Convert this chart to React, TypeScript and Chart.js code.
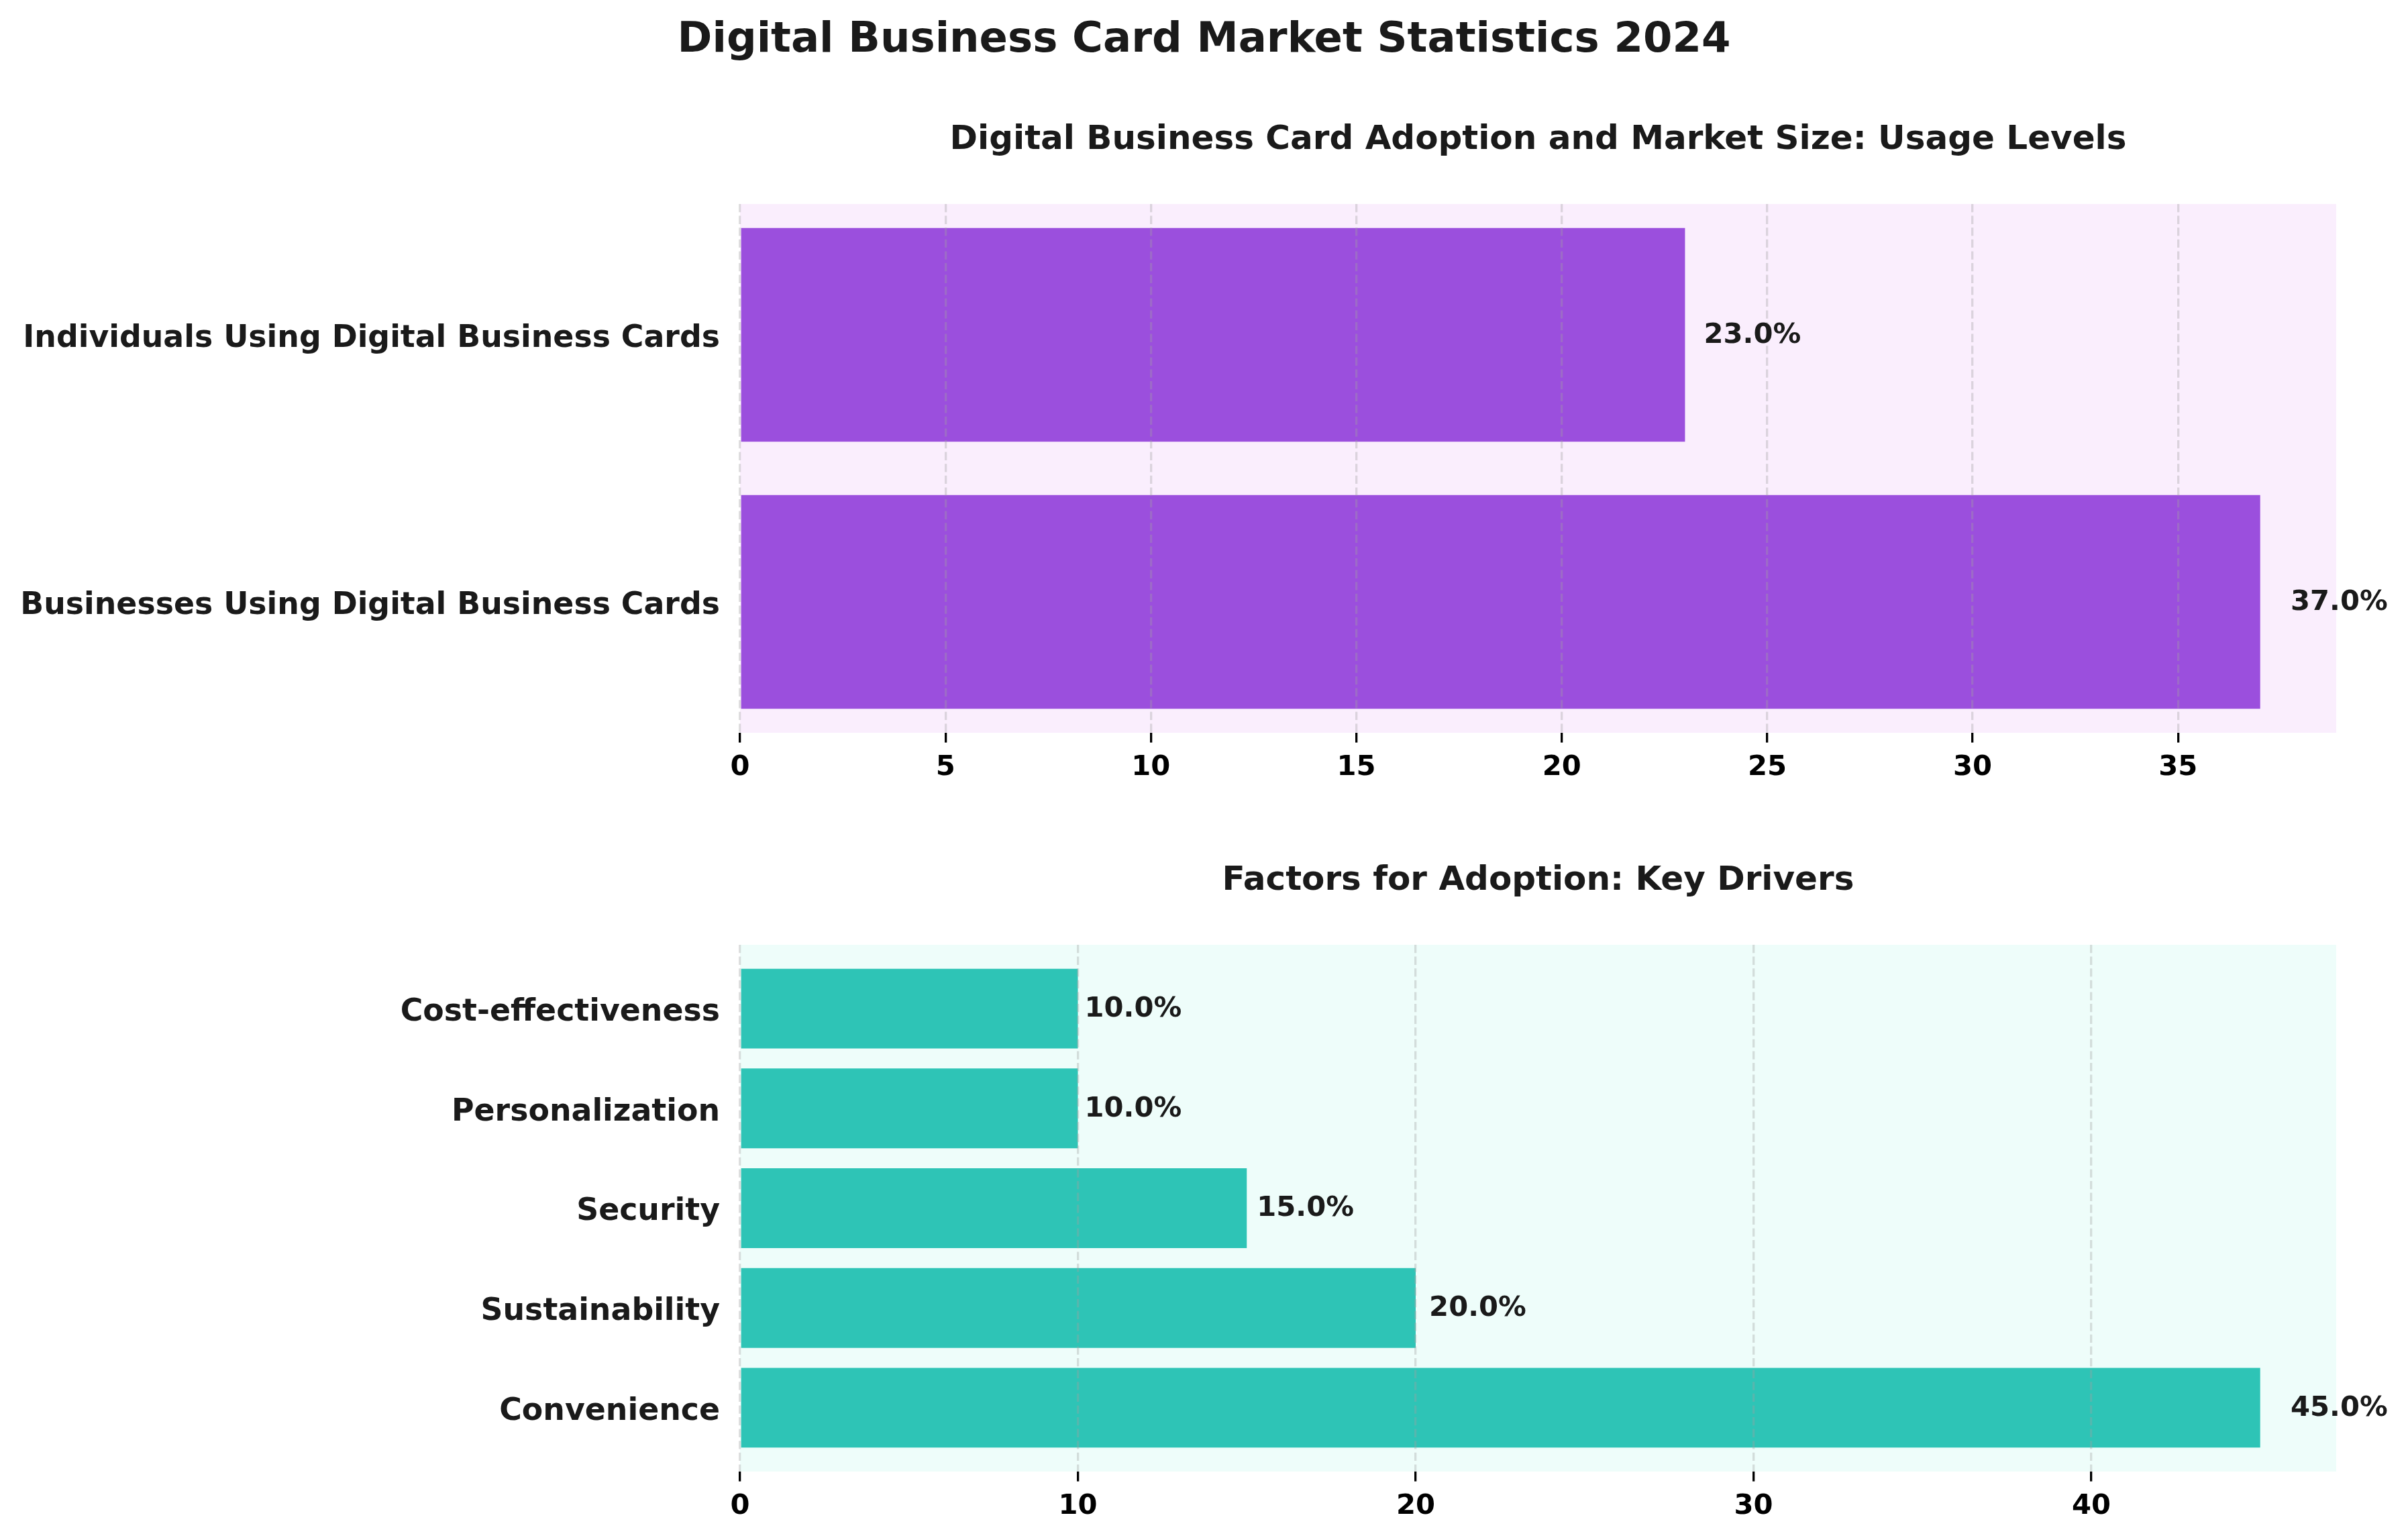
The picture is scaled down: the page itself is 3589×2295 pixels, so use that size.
import React, { useEffect, useRef } from "react";
import { Chart, registerables } from "chart.js";

Chart.register(...registerables);

// ---- data ----
const figureTitle = "Digital Business Card Market Statistics 2024";

const usageTitle = "Digital Business Card Adoption and Market Size: Usage Levels";
const usageCategories = [
  "Businesses Using Digital Business Cards",
  "Individuals Using Digital Business Cards",
];
const usageValues = [37.0, 23.0];
const usageTickStep = 5;

const factorsTitle = "Factors for Adoption: Key Drivers";
const factorCategories = [
  "Convenience",
  "Sustainability",
  "Security",
  "Personalization",
  "Cost-effectiveness",
];
const factorValues = [45.0, 20.0, 15.0, 10.0, 10.0];
const factorTickStep = 10;

// ---- style ----
const FONT = "'DejaVu Sans', 'Liberation Sans', sans-serif";
const W = 3589;
const TOP_H = 1200;
const BOTTOM_H = 2295 - TOP_H;
const Y_AXIS_W = 1103;
const RIGHT_PAD = W - 3482;
const X_AXIS_H = 80;

const annotPlugin = {
  id: "annot",
  beforeDraw(chart: any, _args: any, opts: any) {
    const { ctx, chartArea } = chart;
    ctx.save();
    ctx.fillStyle = opts.bg;
    ctx.fillRect(
      chartArea.left,
      chartArea.top,
      chartArea.right - chartArea.left,
      chartArea.bottom - chartArea.top
    );
    ctx.restore();
  },
  afterDraw(chart: any, _args: any, opts: any) {
    const { ctx, chartArea } = chart;
    const xs = chart.scales.x;
    const ys = chart.scales.y;
    ctx.save();
    ctx.fillStyle = "#1a1a1a";
    if (opts.figureTitle) {
      ctx.font = `bold 62.5px ${FONT}`;
      ctx.textAlign = "center";
      ctx.textBaseline = "alphabetic";
      ctx.fillText(opts.figureTitle, chart.width / 2, 77);
    }
    ctx.font = `bold 50px ${FONT}`;
    ctx.textAlign = "center";
    ctx.textBaseline = "alphabetic";
    ctx.fillText(opts.title, (chartArea.left + chartArea.right) / 2, chartArea.top - 82);
    ctx.font = `bold 41.7px ${FONT}`;
    ctx.textAlign = "left";
    ctx.textBaseline = "middle";
    const vals: number[] = opts.values;
    vals.forEach((v, i) => {
      const x = xs.getPixelForValue(v * 1.02);
      const y = ys.getPixelForValue(i) + 1;
      ctx.fillText(`${v.toFixed(1)}%`, x, y);
    });
    ctx.restore();
  },
};

function buildConfig(p: {
  categories: string[];
  values: number[];
  color: string;
  bg: string;
  step: number;
  title: string;
  figureTitle?: string;
  padTop: number;
  padBottom: number;
}): any {
  const n = p.values.length;
  const span = n - 1 + 0.8;
  const yMin = -0.4 - 0.05 * span;
  const yMax = n - 1 + 0.4 + 0.05 * span;
  const xMax = Math.max(...p.values) * 1.05;
  return {
    type: "bar",
    data: {
      datasets: [
        {
          data: p.values.map((v, i) => ({ x: v, y: i })),
          backgroundColor: p.color,
          borderWidth: 0,
          categoryPercentage: 1,
          barPercentage: 0.8,
        },
      ],
    },
    options: {
      indexAxis: "y",
      responsive: false,
      animation: false,
      devicePixelRatio: 1,
      layout: {
        padding: { left: 0, right: RIGHT_PAD, top: p.padTop, bottom: p.padBottom },
      },
      plugins: {
        legend: { display: false },
        tooltip: { enabled: false },
        title: { display: false },
        annot: {
          bg: p.bg,
          title: p.title,
          figureTitle: p.figureTitle,
          values: p.values,
        },
      },
      scales: {
        x: {
          type: "linear",
          position: "bottom",
          min: 0,
          max: xMax,
          offset: false,
          grid: {
            display: true,
            drawOnChartArea: true,
            drawTicks: true,
            offset: false,
            color: "rgba(160,160,160,0.35)",
            lineWidth: 3.3,
            tickLength: 14.6,
            tickColor: "#000000",
            tickWidth: 3.3,
            z: 1,
          },
          border: { display: false, dash: [12.3, 5.3] },
          ticks: {
            stepSize: p.step,
            includeBounds: false,
            autoSkip: false,
            maxRotation: 0,
            padding: 13,
            color: "#000000",
            font: { family: FONT, size: 41.7, weight: "bold" },
          },
          afterFit: (s: any) => {
            s.height = X_AXIS_H;
          },
        },
        y: {
          type: "linear",
          bounds: "data",
          offset: false,
          min: yMin,
          max: yMax,
          grid: { display: false, drawTicks: false, offset: false },
          border: { display: false },
          afterBuildTicks: (s: any) => {
            s.ticks = p.categories.map((_c, i) => ({ value: i }));
          },
          ticks: {
            autoSkip: false,
            padding: 30,
            labelOffset: 6,
            color: "#1a1a1a",
            font: { family: FONT, size: 45.8, weight: "bold" },
            callback: (v: number) => p.categories[v] ?? "",
          },
          afterFit: (s: any) => {
            s.width = Y_AXIS_W;
          },
        },
      },
    },
    plugins: [annotPlugin],
  };
}

export default function App() {
  const refA = useRef<HTMLCanvasElement>(null);
  const refB = useRef<HTMLCanvasElement>(null);

  useEffect(() => {
    const a = new Chart(
      refA.current as HTMLCanvasElement,
      buildConfig({
        categories: usageCategories,
        values: usageValues,
        color: "#9B4FDD",
        bg: "#FAEEFD",
        step: usageTickStep,
        title: usageTitle,
        figureTitle: figureTitle,
        padTop: 304,
        padBottom: TOP_H - 1092 - X_AXIS_H,
      })
    );
    const b = new Chart(
      refB.current as HTMLCanvasElement,
      buildConfig({
        categories: factorCategories,
        values: factorValues,
        color: "#2EC4B6",
        bg: "#EEFDFA",
        step: factorTickStep,
        title: factorsTitle,
        padTop: 1408 - TOP_H,
        padBottom: BOTTOM_H - (2193 - TOP_H) - X_AXIS_H,
      })
    );
    return () => {
      a.destroy();
      b.destroy();
    };
  }, []);

  return (
    <div
      style={{
        position: "absolute",
        left: 0,
        top: 0,
        width: W,
        height: 2295,
        background: "#ffffff",
        overflow: "hidden",
      }}
    >
      <canvas
        ref={refA}
        width={W}
        height={TOP_H}
        style={{ position: "absolute", left: 0, top: 0, width: W, height: TOP_H }}
      />
      <canvas
        ref={refB}
        width={W}
        height={BOTTOM_H}
        style={{ position: "absolute", left: 0, top: TOP_H, width: W, height: BOTTOM_H }}
      />
    </div>
  );
}
